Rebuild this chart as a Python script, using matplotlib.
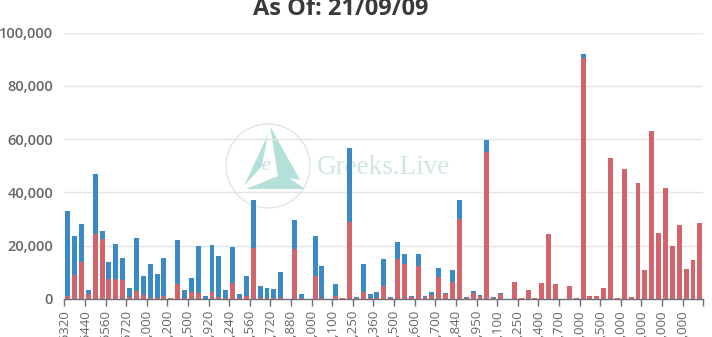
import numpy as np
import matplotlib
matplotlib.use("Agg")
import matplotlib.pyplot as plt
from matplotlib.patches import Ellipse, Polygon

# Open interest per strike (contracts): calls drawn red at the base, puts stacked blue on top
call_oi = [1000, 9000, 14000, 2000, 24500, 22500, 7500, 7500, 7000, 600,
           3000, 1500, 300, 200, 1000, 300, 5500, 200, 2800, 2300,
           0, 2800, 800, 300, 6000, 200, 1000, 19000, 300, 200,
           200, 300, 0, 18800, 300, 0, 8500, 300, 0, 1000,
           300, 28800, 300, 2800, 300, 300, 4700, 500, 15000, 13200,
           900, 12300, 900, 1500, 8400, 1700, 6500, 30000, 500, 2300,
           1300, 55000, 500, 2000, 0, 6200, 400, 3400, 500, 6100,
           24500, 5800, 0, 4700, 500, 90600, 1300, 1300, 4100, 52900,
           400, 48800, 600, 43500, 10700, 63200, 24900, 41700, 20000, 27900,
           11200, 14500, 28500]

put_oi = [32000, 14500, 14000, 1500, 22500, 3000, 6500, 13000, 8500, 3400,
          20000, 7000, 12700, 9300, 14500, 0, 16500, 3300, 5000, 17700,
          1200, 17600, 15200, 3200, 13600, 1600, 7500, 18300, 4400, 4100,
          3500, 10000, 0, 10900, 1700, 0, 15000, 11900, 0, 4700,
          100, 27700, 500, 10500, 1700, 2500, 10300, 300, 6500, 3600,
          400, 4500, 400, 1300, 3200, 500, 4500, 7200, 200, 800,
          300, 4600, 200, 300, 0, 0, 0, 0, 0, 0,
          0, 0, 0, 0, 0, 1300, 0, 0, 0, 0,
          0, 0, 0, 0, 0, 0, 0, 0, 0, 0,
          0, 0, 0]

# One label for every third strike
strike_labels = ["$6320", "$6440", "$6560", "$6720", "$7,000", "$7,200", "$7,500",
                 "$7,920", "$8,240", "$8,560", "$8,720", "$8,880", "$9,000", "$9,100",
                 "$9,250", "$9,360", "$9,500", "$9,600", "$9,700", "$9,840", "$9,950",
                 "$10,100", "$10,250", "$10,400", "$10,700", "$11,000", "$11,500",
                 "$12,000", "$13,000", "$14,000", "$15,000"]

y_ticks = [0, 20000, 40000, 60000, 80000, 100000]
title_text = "As Of: 21/09/09"

RED = "#d4646c"
BLUE = "#3a8bc5"
W, H = 712, 337

plt.rcParams["font.family"] = ["Open Sans", "DejaVu Sans"]

fig = plt.figure(figsize=(W / 100, H / 100), dpi=100)


def fpx(x, y):
    """Pixel position (from top-left) to figure fraction."""
    return x / W, 1 - y / H


# Watermark behind the plot
wm_kw = dict(transform=fig.transFigure, zorder=-5)
cx, cy = fpx(268, 166)
fig.patches.append(Ellipse((cx, cy), 84 / W, 84 / H, fill=False,
                           edgecolor="#dfe6e6", lw=1.0, **wm_kw))
blades = [
    [(270, 126), (300, 180), (278, 176)],
    [(244, 186), (268, 134), (262, 166)],
    [(246, 189), (305, 189), (283, 174)],
]
for pts in blades:
    fig.patches.append(Polygon([fpx(*p) for p in pts], closed=True,
                               facecolor="#b3e1d9", edgecolor="none", **wm_kw))
fig.text(*fpx(266, 166), "e", fontsize=14, family="Liberation Serif",
         style="italic", color="#d0dada", ha="center", va="center", zorder=-4)
fig.text(*fpx(317, 174), "Greeks.Live", fontsize=19.5, family="Liberation Serif",
         color="#cde8e4", ha="left", va="baseline", zorder=-4)

# Plot area
x0, x1 = 64.3, 703.3
ytop, ybase = 32.5, 299
ax = fig.add_axes([x0 / W, 1 - ybase / H, (x1 - x0) / W, (ybase - ytop) / H])
ax.set_facecolor("none")

n = len(call_oi)
x = np.arange(n)
calls = np.array(call_oi)
puts = np.array(put_oi)
ax.bar(x, calls, width=0.72, color=RED, zorder=3)
ax.bar(x, puts, bottom=calls, width=0.72, color=BLUE, zorder=3)

ax.set_xlim(-0.5, n - 0.5)
ax.set_ylim(0, 100000)

for s in ("top", "right", "left"):
    ax.spines[s].set_visible(False)
ax.spines["bottom"].set_color("#6e7079")
ax.spines["bottom"].set_linewidth(1)
ax.spines["bottom"].set_zorder(4)

ax.set_yticks(y_ticks)
ax.set_yticklabels([f"{v:,}" for v in y_ticks])
ax.tick_params(axis="y", length=0, pad=8, labelsize=10.5, labelcolor="#666666")
for t in ax.get_yticklabels():
    t.set_fontweight("semibold")
ax.yaxis.grid(True, color="#e4e4e4", lw=1)
ax.set_axisbelow(True)

tick_pos = np.arange(-0.5, n, 3)
ax.set_xticks(tick_pos)
ax.set_xticklabels(strike_labels + [""] * (len(tick_pos) - len(strike_labels)),
                   rotation=90, va="top", ha="center")
ax.tick_params(axis="x", length=5, width=1, color="#6e7079", pad=3,
               labelsize=9.5, labelcolor="#666666")

fig.text(*fpx(341, 15), title_text, fontsize=17, fontweight="bold",
         color="#3a3a3a", ha="center", va="baseline")

fig.savefig("out.png", dpi=100)
